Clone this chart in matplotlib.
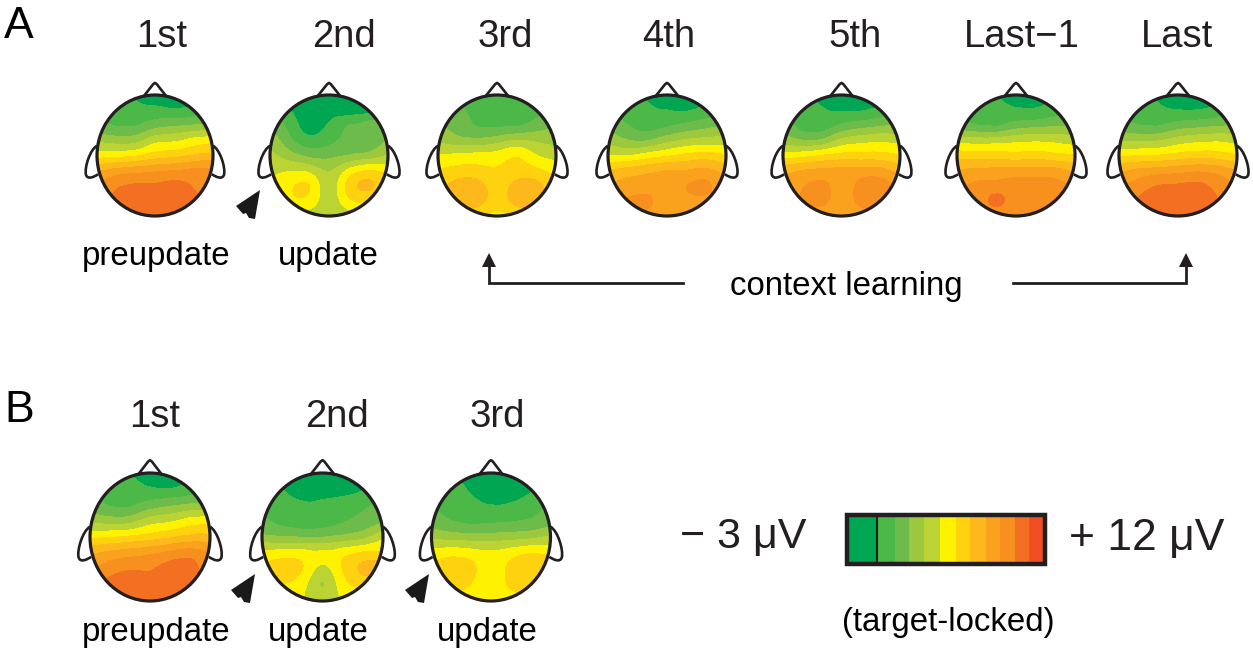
import matplotlib
matplotlib.use("Agg")
import matplotlib.pyplot as plt
import numpy as np
from matplotlib.colors import BoundaryNorm, ListedColormap
from matplotlib.patches import Ellipse, PathPatch, Polygon
from matplotlib.path import Path

plt.rcParams["font.family"] = ["Liberation Sans", "DejaVu Sans"]

INK = "#231f20"

# colour steps of the scale, -3 uV to +12 uV
step_colors = ["#00a651", "#4cb848", "#6dbb4a", "#9bc83c", "#bcd433", "#fff200",
               "#ffd20f", "#fdb81b", "#faa21d", "#f7901e", "#f36f21", "#ef4f23"]
step_widths = [28, 18, 14, 15, 16, 16, 14, 16, 14, 15, 14, 17]

# scalp values in colour steps, rows front to back, columns left to right
a_1st = [[2, 1.6, .8, .3, .2, .8, 1.8],
         [2, 1.8, 1.3, 1.3, 1.1, 1.3, 2],
         [2.2, 1.9, 1.9, 2.5, 2.8, 3, 3.2],
         [3.8, 3.5, 3.6, 4.6, 4.8, 5.3, 5.6],
         [5.5, 5.6, 5.8, 6.4, 6.6, 7, 7.2],
         [7.8, 8.3, 8.6, 8.8, 9, 9.2, 9.2],
         [9, 9.8, 10.1, 10.1, 10.3, 9.9, 9.3],
         [9.5, 10.2, 10.5, 10.6, 10.7, 10.2, 9.5],
         [10, 10, 10.2, 10.2, 10.2, 10, 9.5]]
a_2nd = [[.3, .3, .2, .2, .2, .3, .4],
         [2, 1, .5, .6, .4, .6, 1.6],
         [2.7, 1.6, .5, 1.1, 2, 2.4, 2.6],
         [3.6, 2.2, 1.3, 1.7, 2.2, 2.4, 3],
         [4.2, 3.4, 2.7, 2.7, 3, 3.3, 4],
         [4.8, 4.9, 4.7, 3.9, 5.2, 6, 5.6],
         [5, 5.8, 6, 4.3, 6.4, 7.2, 6.2],
         [5.2, 5.7, 5.6, 4.4, 5.7, 6, 5],
         [5, 5, 4.5, 4.3, 4.5, 5, 5]]
a_3rd = [[1.5, 1.5, 1.5, 1.2, 1, 1.2, 2],
         [2.7, 2.2, 1.7, 1.4, 1.2, 1.6, 2.5],
         [3, 2.6, 1.9, 1.8, 1.8, 2.4, 3],
         [3.8, 3.3, 3.2, 3.5, 4, 3.8, 3.7],
         [5, 5.2, 5.3, 5.4, 5.9, 5, 4.6],
         [6, 6.3, 6.3, 6.1, 6.4, 6.2, 5.6],
         [6.6, 7.4, 7.4, 6.5, 7.3, 7.3, 6.3],
         [7, 7.4, 7.4, 6.5, 7.3, 7.2, 6.5],
         [6.5, 6.5, 6.2, 5.6, 6.2, 6.5, 6.5]]
a_4th = [[2, 1.5, .8, .2, .2, .8, 1.8],
         [2, 1.6, 1.2, 1, .9, 1.3, 2],
         [2.6, 2, 1.5, 1.8, 2.2, 2.6, 3],
         [3.7, 3, 2.9, 3.6, 4.1, 4.3, 4.4],
         [5, 4.9, 5.4, 5.8, 6.2, 6.4, 6],
         [7, 7.4, 7.7, 8, 8, 8.2, 7.5],
         [8, 8.4, 8.5, 8.6, 9, 9.2, 8.2],
         [8.8, 9.1, 9.2, 8.5, 8.7, 8.7, 8.4],
         [8.6, 9.2, 8.7, 8.5, 8.5, 8.5, 8.5]]
a_5th = [[2, 1.5, .5, .2, .2, .6, 1.8],
         [2, 1.6, 1.1, .9, .9, 1.3, 2],
         [2.5, 1.6, 1.4, 2.1, 2.5, 2.8, 3.1],
         [3.5, 3, 3.1, 4.2, 4.6, 4.8, 4.6],
         [5.4, 5.6, 6, 6.3, 6.3, 6.3, 6],
         [7.6, 8, 8.2, 8.3, 8.4, 8.3, 7.6],
         [8.4, 8.9, 9.2, 8.6, 9.2, 9.4, 8.5],
         [8.8, 9, 9.2, 8.6, 9.2, 9.2, 8.7],
         [8.6, 8.6, 8.5, 8.5, 8.6, 8.6, 8.6]]
a_last1 = [[2, 1.6, 1, .7, .6, 1, 1.8],
           [2, 1.6, 1.3, 1.1, 1.1, 1.5, 2],
           [2.4, 2, 1.8, 2.4, 2.6, 2.8, 3],
           [4.6, 4.4, 4.5, 4.7, 4.8, 4.7, 4.5],
           [6.5, 6.4, 6.4, 6.3, 6.4, 6.2, 6],
           [8, 8.2, 8.3, 8.4, 8.4, 8.3, 7.8],
           [8.8, 9.2, 9.3, 9.4, 9.4, 9.3, 8.8],
           [9, 9.4, 10.3, 9.5, 9.5, 9.3, 9],
           [9, 9, 9.1, 9, 9, 9, 9]]
a_last = [[2, 1.5, .8, .2, .2, .7, 1.8],
          [2, 1.5, 1.2, 1, 1, 1.3, 2],
          [2.5, 2, 1.9, 2.4, 2.6, 2.8, 3],
          [3.9, 3.8, 3.9, 4.4, 4.7, 4.8, 4.7],
          [5.8, 5.9, 6, 6.3, 6.5, 6.4, 6],
          [7.8, 8.2, 8.4, 8.6, 8.8, 8.6, 8],
          [8.8, 9.4, 10, 10.1, 10.2, 9.6, 8.8],
          [9.4, 10.1, 10.5, 10.5, 10.5, 10, 9],
          [9.8, 10, 10.1, 10, 10, 9.8, 9.4]]
b_1st = [[2, 1.6, 1, .4, .2, .8, 1.8],
         [2, 1.7, 1.4, 1.1, 1, 1.4, 2],
         [2.4, 1.9, 1.8, 2.4, 2.8, 3.1, 3.3],
         [3.8, 3.5, 3.6, 4.5, 4.8, 5.4, 5.6],
         [5.7, 5.9, 6.1, 6.4, 6.8, 7.2, 7.2],
         [7.8, 8.2, 8.5, 8.8, 9.2, 9.5, 9],
         [8.8, 9.5, 9.9, 9.9, 10.4, 10.4, 9.2],
         [9.8, 10.3, 10.5, 10.3, 10.5, 10.2, 9.6],
         [10, 10, 10.2, 10.2, 10.2, 10, 9.5]]
b_2nd = [[1.6, 1, .3, .1, .1, .4, 1.6],
         [1.6, 1, .6, .5, .5, .9, 1.8],
         [1.9, 1.4, 1.1, 1.2, 1.5, 1.8, 2.4],
         [2.2, 1.7, 1.4, 1.5, 1.9, 2.3, 2.8],
         [3.2, 3, 2.9, 2.9, 3.2, 3.6, 4.7],
         [5.3, 5.4, 5.4, 5.2, 5.6, 6.1, 6.1],
         [6, 6.4, 6, 4.6, 6, 7.2, 7.5],
         [5.6, 5.9, 5.3, 3.9, 5.5, 6.2, 6],
         [5.2, 5.1, 5, 4.8, 5, 5.2, 5.2]]
b_3rd = [[1.6, 1, .5, .4, .4, .6, 1.6],
         [2, 1.6, .8, .4, .4, .8, 1.8],
         [2, 1.7, 1.3, 1, 1.1, 1.6, 2.2],
         [2.5, 2, 1.7, 1.8, 1.9, 2.1, 2.5],
         [3.7, 3.5, 3.4, 3.4, 3.5, 3.7, 4.1],
         [5.3, 5.6, 5.4, 5.2, 5.5, 5.9, 5.7],
         [6.1, 6.6, 6.3, 5.2, 6.3, 6.9, 6.5],
         [5.8, 6.4, 5.9, 5.2, 6.2, 6.6, 6],
         [5.5, 5.4, 5.2, 5, 5.2, 5.5, 5.5]]

cmap = ListedColormap(step_colors[1:-1])
cmap.set_under(step_colors[0])
cmap.set_over(step_colors[-1])
norm = BoundaryNorm(np.arange(1, 12), cmap.N)


def smooth_map(values, n=160):
    """Thin plate spline through the coarse scalp grid."""
    values = np.asarray(values, dtype=float)
    gx, gy = np.meshgrid(np.linspace(-1, 1, values.shape[1]), np.linspace(-1, 1, values.shape[0]))
    pts = np.column_stack([gx.ravel(), gy.ravel()])

    def kernel(a, b):
        d2 = ((a[:, None, :] - b[None, :, :]) ** 2).sum(axis=2)
        return 0.5 * d2 * np.log(np.where(d2 > 0, d2, 1))

    poly = np.column_stack([np.ones(len(pts)), pts])
    size = len(pts)
    lhs = np.zeros((size + 3, size + 3))
    lhs[:size, :size] = kernel(pts, pts) + 1e-3 * np.eye(size)
    lhs[:size, size:] = poly
    lhs[size:, :size] = poly.T
    coef = np.linalg.solve(lhs, np.r_[values.ravel(), np.zeros(3)])

    x = np.linspace(-1.03, 1.03, n)
    xx, yy = np.meshgrid(x, x)
    query = np.column_stack([xx.ravel(), yy.ravel()])
    zz = kernel(query, pts) @ coef[:size] + np.column_stack([np.ones(len(query)), query]) @ coef[size:]
    return xx, yy, zz.reshape(xx.shape)


def draw_head(ax, values, cx, cy, rx, ry):
    xx, yy, zz = smooth_map(values)
    cs = ax.contourf(cx + xx * rx, cy + yy * ry, zz, levels=np.arange(1, 12),
                     cmap=cmap, norm=norm, extend="both", zorder=1)
    cs.set_edgecolor("face")
    cs.set_linewidth(0.4)
    outline = Ellipse((cx, cy), 2 * rx, 2 * ry, fill=False, ec=INK, lw=2.3, zorder=3)
    ax.add_patch(outline)
    clip = Ellipse((cx, cy), 2 * rx, 2 * ry, transform=ax.transData)
    cs.set_clip_path(clip)

    # nose
    nose = [(-.19, -.985), (-.03, -1.18), (0, -1.2), (.03, -1.18), (.19, -.985)]
    ax.plot([cx + p[0] * rx for p in nose], [cy + p[1] * ry for p in nose],
            color=INK, lw=1.9, zorder=2)
    # ears
    for side in (-1, 1):
        verts = [(1.0, -.16), (1.12, -.1), (1.22, .2), (1.19, .32),
                 (1.16, .4), (1.06, .36), (.98, .31)]
        verts = [(cx + side * vx * rx, cy + vy * ry) for vx, vy in verts]
        codes = [Path.MOVETO] + [Path.CURVE4] * 6
        ax.add_patch(PathPatch(Path(verts, codes), fill=False, ec=INK, lw=1.9, zorder=2))


fig = plt.figure(figsize=(12.53, 6.52), dpi=100)
ax = fig.add_axes([0, 0, 1, 1])
ax.set_xlim(0, 1253)
ax.set_ylim(652, 0)
ax.axis("off")

heads = [
    (a_1st, 155, 155.5, 58, 60.5), (a_2nd, 329, 155.5, 59, 60.5), (a_3rd, 497, 155.5, 59, 60.5),
    (a_4th, 667, 155.5, 59, 60.5), (a_5th, 841.5, 155.5, 58.5, 60.5), (a_last1, 1016, 155.5, 59, 60.5),
    (a_last, 1178, 155.5, 59, 60.5),
    (b_1st, 150, 537, 60, 64), (b_2nd, 322.5, 537, 60.5, 64), (b_3rd, 491, 537, 59.5, 64),
]
for head in heads:
    draw_head(ax, *head)

# text
for label, x, y in [("1st", 162, 37), ("2nd", 344, 37), ("3rd", 505, 37), ("4th", 669, 37),
                    ("5th", 855, 37), ("Last\u22121", 1022, 37), ("Last", 1177, 37),
                    ("1st", 155, 417), ("2nd", 337, 417), ("3rd", 497, 417)]:
    ax.text(x, y, label, ha="center", va="center", fontsize=27.5, color=INK)
for label, x, y in [("preupdate", 156, 257), ("update", 328, 257), ("context learning", 846, 287),
                    ("preupdate", 156, 633), ("update", 318, 633), ("update", 487, 633),
                    ("(target-locked)", 948, 623)]:
    ax.text(x, y, label, ha="center", va="center", fontsize=23.8, color="black")
ax.text(19, 27, "A", ha="center", va="center", fontsize=32, color="black")
ax.text(19, 411, "B", ha="center", va="center", fontsize=32, color="black")
ax.text(743, 537, "\u2212 3 \u03bcV", ha="center", va="center", fontsize=31, color=INK)
ax.text(1147, 539, "+ 12 \u03bcV", ha="center", va="center", fontsize=32, color=INK)

# update arrowheads
dart = np.array([(260, 190), (236, 206), (243, 214), (246, 213), (249, 218), (255, 219)], dtype=float)
for dx, dy in [(0, 0), (-5, 384), (169, 384)]:
    ax.add_patch(Polygon(dart + [dx, dy], closed=True, fc="#1a1a1a", ec="none", zorder=4))

# context learning bracket
ax.plot([683, 489, 489], [283, 283, 262], color=INK, lw=2, solid_joinstyle="miter")
ax.plot([1013, 1186, 1186], [283, 283, 262], color=INK, lw=2, solid_joinstyle="miter")
for x in (489, 1186):
    ax.add_patch(Polygon([(x, 253), (x - 7, 267), (x + 7, 267)], closed=True, fc=INK, ec="none"))

# colour scale
edges = 849 + np.r_[0, np.cumsum(step_widths)]
ax.pcolormesh(edges, [516, 562], [np.arange(len(step_colors))], cmap=ListedColormap(step_colors),
              vmin=-.5, vmax=len(step_colors) - .5, zorder=1)
ax.add_patch(plt.Rectangle((847, 515), 198, 49, fill=False, ec=INK, lw=3.2, zorder=3))
ax.plot([877, 877], [515, 564], color=INK, lw=1.5, zorder=3)

fig.savefig("out.png", dpi=100)
